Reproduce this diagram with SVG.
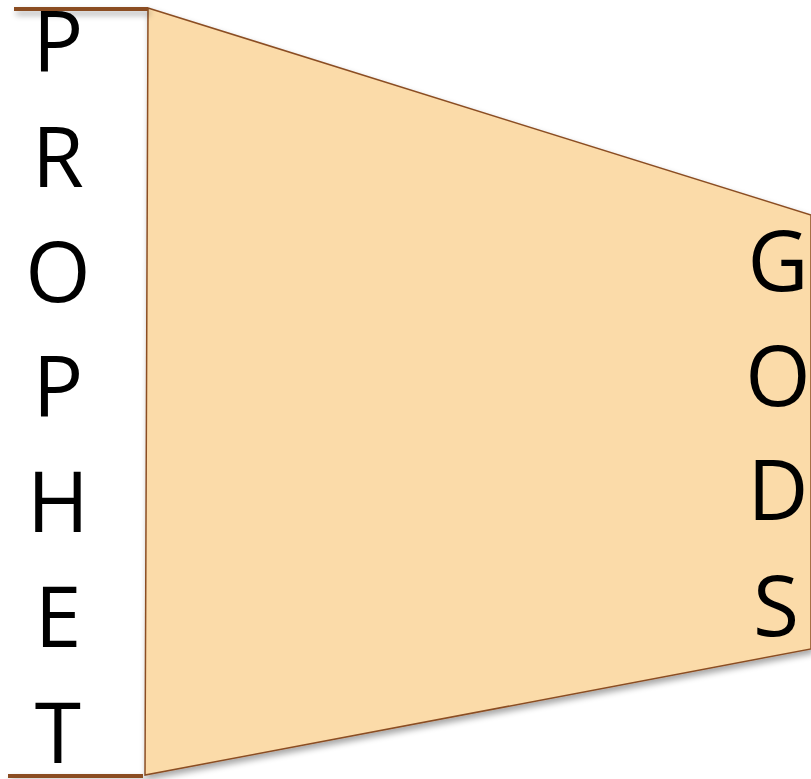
<svg xmlns="http://www.w3.org/2000/svg" width="811" height="779" viewBox="0 0 811 779">
  <style>
    .lbl { font-family: "Open Sans", "Liberation Sans", sans-serif; font-size: 84px; fill: #000; text-anchor: middle; }
    .bar { stroke: #8B4E24; stroke-width: 4; fill: none; }
    .shape { fill: #FBDBA9; stroke: #8B4E24; stroke-width: 1.5; }
  </style>
  <defs>
    <filter id="sh" x="-10%" y="-10%" width="130%" height="130%">
      <feGaussianBlur in="SourceAlpha" stdDeviation="3"/>
      <feOffset dx="2" dy="4" result="b"/>
      <feComponentTransfer><feFuncA type="linear" slope="0.35"/></feComponentTransfer>
      <feMerge><feMergeNode/><feMergeNode in="SourceGraphic"/></feMerge>
    </filter>
  </defs>
  <rect width="811" height="779" fill="#fff"/>
  <g id="funnel">
    <polygon class="shape" filter="url(#sh)" points="148,8 811,215 811,649 145,775"/>
  </g>
  <g id="bars" filter="url(#sh)">
    <line class="bar" x1="14" y1="9" x2="148" y2="9"/>
    <line class="bar" x1="8" y1="776" x2="143" y2="776"/>
  </g>
  <g id="prophet">
    <text class="lbl" x="58" y="72">P</text>
    <text class="lbl" x="58" y="187">R</text>
    <text class="lbl" x="58" y="302">O</text>
    <text class="lbl" x="58" y="417">P</text>
    <text class="lbl" x="58" y="532">H</text>
    <text class="lbl" x="58" y="647">E</text>
    <text class="lbl" x="58" y="763">T</text>
  </g>
  <g id="gods">
    <text class="lbl" x="778" y="291">G</text>
    <text class="lbl" x="778" y="406">O</text>
    <text class="lbl" x="778" y="520">D</text>
    <text class="lbl" x="776" y="636">S</text>
  </g>
</svg>
